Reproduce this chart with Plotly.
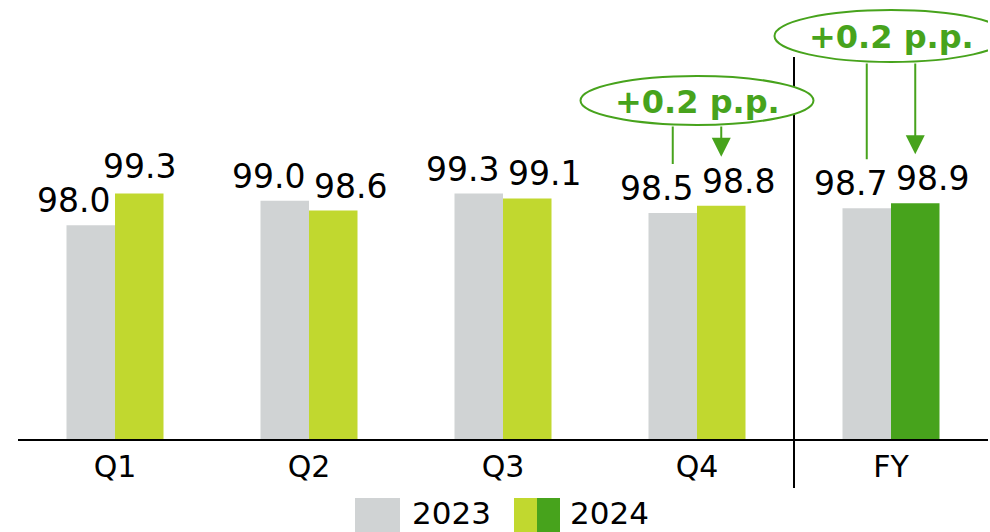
import plotly.graph_objects as go

# ---- data -----------------------------------------------------------------
categories = ["Q1", "Q2", "Q3", "Q4", "FY"]
values_2023 = [98.0, 99.0, 99.3, 98.5, 98.7]
values_2024 = [99.3, 98.6, 99.1, 98.8, 98.9]
series_names = ["2023", "2024"]

# year-on-year callouts
change_categories = ["Q4", "FY"]
change_labels = ["+0.2 p.p.", "+0.2 p.p."]

# ---- styling --------------------------------------------------------------
GRAY = "#D0D3D4"
LIME = "#C1D82F"
GREEN = "#47A31C"
FONT = "DejaVu Sans"

W, H = 990, 532
M_L, M_R, M_T, M_B = 18, 2, 0, 93
PLOT_W = W - M_L - M_R
PLOT_H = H - M_T - M_B
PX_PER_UNIT = 24.3
Y_MIN = 89.2
Y_MAX = Y_MIN + PLOT_H / PX_PER_UNIT


def ypix(v):
    return M_T + PLOT_H - (v - Y_MIN) * PX_PER_UNIT


def paper_y(pix):
    return (M_T + PLOT_H - pix) / PLOT_H


def paper_x(pix):
    return (pix - M_L) / PLOT_W


colors_2024 = [GREEN if c == "FY" else LIME for c in categories]

fig = go.Figure()
fig.add_trace(go.Bar(x=categories, y=values_2023, name=series_names[0],
                     marker=dict(color=GRAY, line=dict(width=0)),
                     hoverinfo="skip"))
fig.add_trace(go.Bar(x=categories, y=values_2024, name=series_names[1],
                     marker=dict(color=colors_2024, line=dict(width=0)),
                     hoverinfo="skip"))

annotations = []
shapes = []

# value labels, pushed apart horizontally so neighbours don't collide
LABEL_SIZE = 33
label_dx_2023 = [-42, -41, -41, -41, -41]
label_dx_2024 = [24, 41, 41, 41, 41]
label_dy_2024 = [7, 4, 4, 4, 4]
for i, cat in enumerate(categories):
    annotations.append(dict(x=cat, y=values_2023[i], xref="x", yref="y",
                            text=f"{values_2023[i]:.1f}", showarrow=False,
                            xanchor="center", yanchor="bottom",
                            xshift=label_dx_2023[i], yshift=3,
                            font=dict(family=FONT, size=LABEL_SIZE, color="black")))
    annotations.append(dict(x=cat, y=values_2024[i], xref="x", yref="y",
                            text=f"{values_2024[i]:.1f}", showarrow=False,
                            xanchor="center", yanchor="bottom",
                            xshift=label_dx_2024[i], yshift=label_dy_2024[i] - 1,
                            font=dict(family=FONT, size=LABEL_SIZE, color="black")))

# divider between the quarters and the full year
shapes.append(dict(type="line", xref="x", yref="paper",
                   x0=3.5, x1=3.5, y0=paper_y(488), y1=paper_y(57),
                   line=dict(color="black", width=2), layer="above"))

# callout bubbles with connectors down to the bars
bubble_top = [76, 10]
bubble_bottom = [125, 62]
BAR_OFFSET = 24.25
for k, cat in enumerate(change_categories):
    idx = categories.index(cat)
    shapes.append(dict(type="circle", xref="x", yref="paper",
                       xsizemode="pixel", xanchor=idx, x0=-116.5, x1=116.5,
                       y0=paper_y(bubble_bottom[k]), y1=paper_y(bubble_top[k]),
                       line=dict(color=GREEN, width=2), fillcolor="white",
                       layer="above"))
    annotations.append(dict(x=cat, xref="x", yref="paper",
                            y=paper_y((bubble_top[k] + bubble_bottom[k]) / 2 + 1),
                            text=f"<b>{change_labels[k]}</b>", showarrow=False,
                            xanchor="center", yanchor="middle",
                            font=dict(family=FONT, size=32, color=GREEN)))
    for vals, dx, head in ((values_2023, -BAR_OFFSET, 0),
                           (values_2024, BAR_OFFSET, 2)):
        v = vals[idx]
        tip = ypix(v) - 49
        annotations.append(dict(x=cat, y=v, xref="x", yref="y", text="",
                                showarrow=True, arrowhead=head, arrowsize=1.9,
                                arrowwidth=2, arrowcolor=GREEN,
                                ax=0, ay=-(tip - bubble_bottom[k]),
                                xshift=dx, yshift=49, standoff=0))

# legend
legend_y0, legend_y1 = paper_y(532), paper_y(498)
shapes.append(dict(type="rect", xref="paper", yref="paper",
                   x0=paper_x(355), x1=paper_x(400), y0=legend_y0, y1=legend_y1,
                   fillcolor=GRAY, line=dict(width=0)))
shapes.append(dict(type="rect", xref="paper", yref="paper",
                   x0=paper_x(514), x1=paper_x(537), y0=legend_y0, y1=legend_y1,
                   fillcolor=LIME, line=dict(width=0)))
shapes.append(dict(type="rect", xref="paper", yref="paper",
                   x0=paper_x(537), x1=paper_x(560), y0=legend_y0, y1=legend_y1,
                   fillcolor=GREEN, line=dict(width=0)))
for name, px in zip(series_names, (410, 568)):
    annotations.append(dict(x=paper_x(px), y=paper_y(513), xref="paper", yref="paper",
                            text=name, showarrow=False, xanchor="left", yanchor="middle",
                            font=dict(family=FONT, size=31, color="black")))

fig.update_layout(
    width=W, height=H,
    margin=dict(l=M_L, r=M_R, t=M_T, b=M_B, pad=0),
    paper_bgcolor="white", plot_bgcolor="white",
    barmode="group", bargap=0.5, bargroupgap=0,
    showlegend=False,
    font=dict(family=FONT, color="black"),
    annotations=annotations, shapes=shapes,
    xaxis=dict(type="category", range=[-0.5, 4.5], showgrid=False, zeroline=False,
               showline=True, linecolor="black", linewidth=2, ticks="",
               tickfont=dict(family=FONT, size=30, color="black")),
    yaxis=dict(range=[Y_MIN, Y_MAX], visible=False, fixedrange=True),
)

fig.write_html("out.html")
